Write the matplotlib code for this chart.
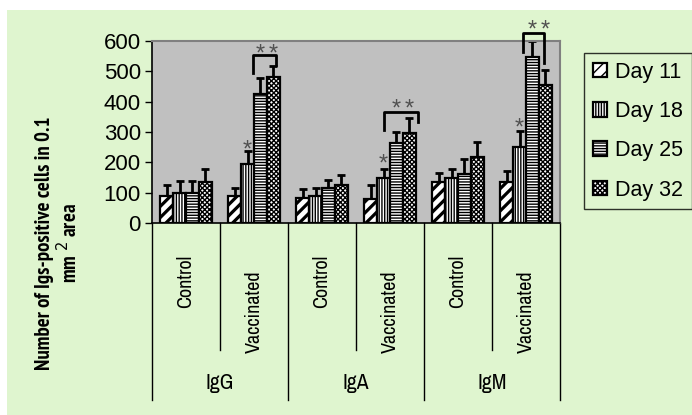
import numpy as np
import matplotlib
matplotlib.use("Agg")
import matplotlib.pyplot as plt
from matplotlib.patches import Rectangle
from matplotlib.lines import Line2D

# data
groups = ["IgG", "IgA", "IgM"]
treatments = ["Control", "Vaccinated"]
days = ["Day 11", "Day 18", "Day 25", "Day 32"]

day11 = [88, 88, 82, 80, 136, 136]
day18 = [98, 195, 88, 148, 148, 250]
day25 = [98, 425, 115, 263, 162, 546]
day32 = [135, 481, 124, 296, 218, 454]

sd11 = [36, 29, 31, 44, 29, 37]
sd18 = [39, 43, 27, 30, 30, 54]
sd25 = [39, 53, 26, 38, 48, 54]
sd32 = [43, 37, 33, 51, 48, 49]

yticks = [0, 100, 200, 300, 400, 500, 600]

# significance marks: single star over day 18 of vaccinated groups
star_cats = [1, 3, 5]
star_y = [240, 192, 312]
# double-star brackets (category, left x off, right x off, top, left bottom, right bottom, stars y)
brackets = [
    (1, -0.02, 0.33, 553, 494, 520, 555),
    (3, -0.09, 0.41, 365, 306, 333, 373),
    (5, -0.05, 0.26, 625, 563, 527, 633),
]

narrow = ["Archivo Narrow", "PT Sans Narrow", "DejaVu Sans"]
narrow_bold = ["PT Sans Narrow", "Roboto Condensed", "DejaVu Sans"]
plt.rcParams["font.family"] = ["Liberation Sans", "DejaVu Sans"]
plt.rcParams["hatch.linewidth"] = 1.0

fig = plt.figure(figsize=(6.92, 4.15), dpi=100)
fig.patch.set_facecolor("white")
fig.add_artist(Rectangle((7 / 692, 0), 1, 1 - 10 / 415, transform=fig.transFigure,
                         facecolor="#dff5cf", edgecolor="none", zorder=-10))

ax = fig.add_axes([152 / 692, 1 - 223 / 415, 408 / 692, 182 / 415])
ax.set_facecolor("#c0c0c0")

series = [day11, day18, day25, day32]
sds = [sd11, sd18, sd25, sd32]
hatches = ["///", "||||||", "------", "xxxxxxx"]
x = np.arange(len(groups) * len(treatments))
w = 0.19
handles = []
for i, (vals, err, h) in enumerate(zip(series, sds, hatches)):
    pos = x + (i - 1.5) * w
    bars = ax.bar(pos, vals, w, facecolor="white", edgecolor="black", linewidth=1.6,
                  hatch=h, zorder=3, label=days[i])
    if i == 0:
        for b in bars:
            if hasattr(b, "set_hatch_linewidth"):
                b.set_hatch_linewidth(2.3)
    ax.errorbar(pos, vals, yerr=[np.zeros(len(vals)), err], fmt="none",
                ecolor="black", elinewidth=2, capsize=3, capthick=2, zorder=2)
    handles.append(bars)

for c, yy in zip(star_cats, star_y):
    ax.text(c - 0.5 * w, yy, "*", ha="center", va="center", fontsize=17,
            color="#505050", zorder=5, clip_on=False)

for c, lo, ro, top, lb, rb, sy in brackets:
    ax.add_line(Line2D([c + lo, c + lo, c + ro, c + ro], [lb, top, top, rb],
                       color="black", lw=2, zorder=5, clip_on=False))
    for k in (0.5, 1.5):
        ax.text(c + k * w, sy, "*", ha="center", va="center", fontsize=17,
                color="#505050", zorder=5, clip_on=False)

ax.set_xlim(-0.5, 5.5)
ax.set_ylim(0, 600)
ax.set_yticks(yticks)
ax.tick_params(axis="y", labelsize=16, length=5, width=1, direction="out", pad=3)
ax.set_xticks([])
for s in ["top", "right"]:
    ax.spines[s].set_color("#808080")
    ax.spines[s].set_linewidth(1.5)
ax.spines["left"].set_linewidth(1.2)
ax.spines["bottom"].set_linewidth(1.2)

# hierarchical x-axis labels
tr = ax.get_xaxis_transform()
for k in range(len(x)):
    ty = -0.32 if k % 2 == 0 else -0.485
    ax.text(k, ty, treatments[k % 2], transform=tr, rotation=90, ha="center",
            va="center", fontsize=14.5, family=narrow)
for k, g in enumerate(groups):
    ax.text(2 * k + 0.5, -0.88, g, transform=tr, ha="center", va="center",
            fontsize=15.5, family=narrow)
for k in range(len(x) + 1):
    bottom = -0.973 if k % 2 == 0 else -0.698
    ax.add_line(Line2D([k - 0.5, k - 0.5], [0, bottom], transform=tr, color="black",
                       lw=1, clip_on=False))

fig.text(58 / 692, 1 - 243 / 415, "Number of Igs-positive cells in 0.1\nmm $^{2}$ area",
         rotation=90, ha="center", va="center", fontsize=15, fontweight="bold",
         family=narrow_bold, linespacing=1.1)

leg = fig.legend(handles=handles, labels=days, loc="upper left",
                 bbox_to_anchor=(584 / 692, 1 - 53 / 415), fontsize=15.5,
                 frameon=True, fancybox=False, handlelength=0.65, handleheight=0.65,
                 handletextpad=0.4, labelspacing=0.85, borderpad=0.4, borderaxespad=0)
leg.get_frame().set_edgecolor("black")
leg.get_frame().set_facecolor("#dff5cf")
leg.get_frame().set_linewidth(1)

fig.savefig("out.png", dpi=100)
